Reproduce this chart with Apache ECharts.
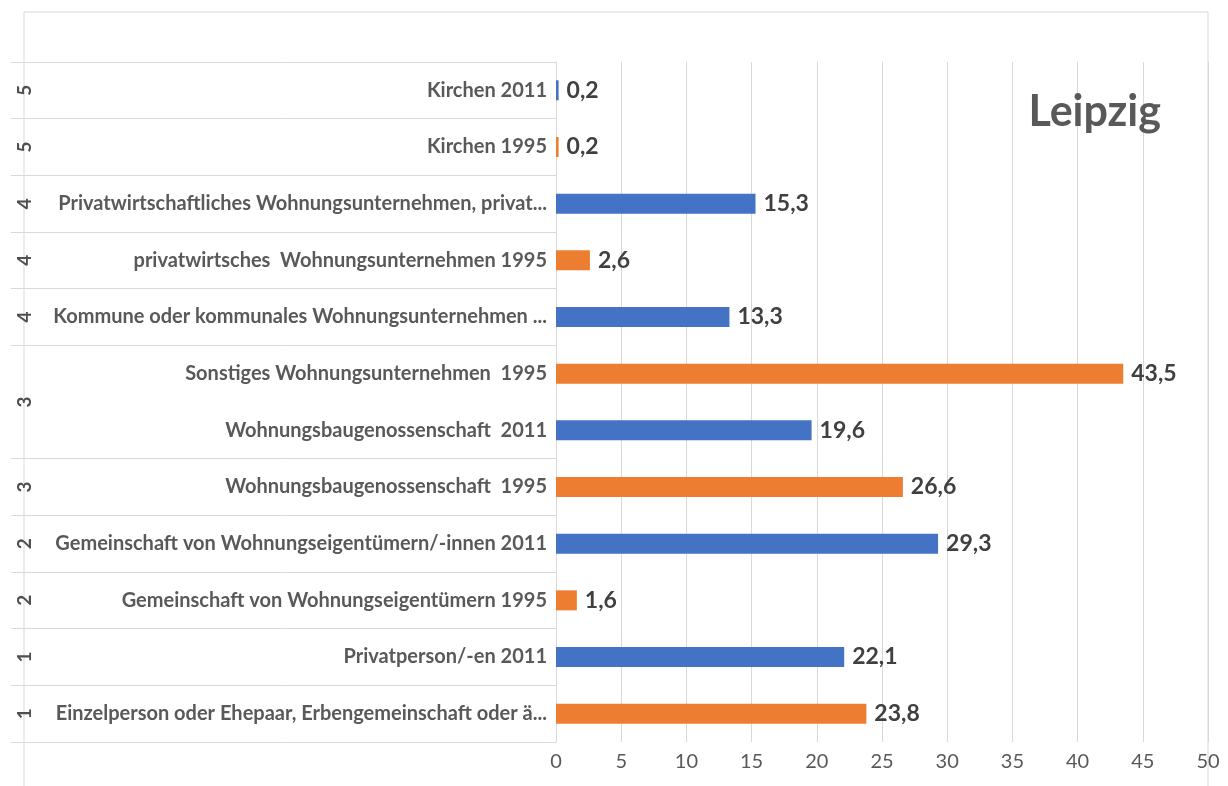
<!DOCTYPE html>
<html>
<head>
  <meta charset="utf-8">
  <title>Leipzig</title>
  <script src="https://cdn.jsdelivr.net/npm/echarts@6/dist/echarts.min.js"></script>
  <style>
    html, body { margin: 0; padding: 0; background: #fff; }
    #chart { width: 1228px; height: 786px; }
  </style>
</head>
<body>
  <div id="chart"></div>
  <script>
    // categories, bottom to top
    const categories = [
      'Einzelperson oder Ehepaar, Erbengemeinschaft oder ä...',
      'Privatperson/-en 2011',
      'Gemeinschaft von Wohnungseigentümern 1995',
      'Gemeinschaft von Wohnungseigentümern/-innen 2011',
      'Wohnungsbaugenossenschaft  1995',
      'Wohnungsbaugenossenschaft  2011',
      'Sonstiges Wohnungsunternehmen  1995',
      'Kommune oder kommunales Wohnungsunternehmen ...',
      'privatwirtsches  Wohnungsunternehmen 1995',
      'Privatwirtschaftliches Wohnungsunternehmen, privat...',
      'Kirchen 1995',
      'Kirchen 2011'
    ];
    const values1995 = [23.8, null, 1.6, null, 26.6, null, 43.5, null, 2.6, null, 0.2, null];
    const values2011 = [null, 22.1, null, 29.3, null, 19.6, null, 13.3, null, 15.3, null, 0.2];

    // outer group labels and how many rows each spans (bottom to top)
    const groupLabels = ['1', '1', '2', '2', '3', '3', '4', '4', '4', '5', '5'];
    const groupSpans = [1, 1, 1, 1, 1, 2, 1, 1, 1, 1, 1];

    const xTicks = [0, 5, 10, 15, 20, 25, 30, 35, 40, 45, 50];

    // group centres (for labels) and group edges (for separator lines)
    const groupCenters = [];
    const groupEdges = [0];
    let pos = 0;
    groupSpans.forEach(s => {
      groupCenters.push(pos + s / 2);
      pos += s;
      groupEdges.push(pos);
    });
    const centerLabel = {};
    groupCenters.forEach((c, i) => { centerLabel[c] = groupLabels[i]; });

    const font = 'Lato, "Noto Sans", sans-serif';
    const grey = '#d9d9d9';
    const fmt = v => v.toFixed(1).replace('.', ',');

    const barLabel = {
      show: true,
      position: 'right',
      distance: 8,
      fontFamily: font,
      fontWeight: 'bold',
      fontSize: 23,
      color: '#404040',
      formatter: p => fmt(p.value)
    };

    const chart = echarts.init(document.getElementById('chart'));
    chart.setOption({
      backgroundColor: '#fff',
      animation: false,
      title: {
        text: 'Leipzig',
        right: 62,
        top: 86,
        textStyle: { fontFamily: font, fontWeight: 'bold', fontSize: 43, color: '#595959' }
      },
      grid: { left: 556, right: 20, top: 62, bottom: 44 },
      xAxis: {
        type: 'value',
        min: xTicks[0],
        max: xTicks[xTicks.length - 1],
        interval: 5,
        axisLine: { show: false },
        axisTick: { show: false },
        splitLine: { lineStyle: { color: grey, width: 1 } },
        axisLabel: { fontFamily: font, fontSize: 20, color: '#595959', margin: 10 }
      },
      yAxis: [
        {
          type: 'category',
          data: categories,
          axisLine: { lineStyle: { color: grey } },
          axisTick: { show: false },
          axisLabel: {
            fontFamily: font, fontWeight: 'bold', fontSize: 20, color: '#595959', margin: 9
          }
        },
        {
          type: 'value',
          min: 0,
          max: categories.length,
          position: 'left',
          axisLine: { show: false },
          splitLine: { show: false },
          axisTick: {
            show: true,
            length: 545,
            customValues: groupEdges,
            lineStyle: { color: grey }
          },
          axisLabel: {
            customValues: groupCenters,
            rotate: 90,
            margin: 522,
            fontFamily: font, fontWeight: 'bold', fontSize: 19, color: '#4f4f4f',
            formatter: v => centerLabel[v] || ''
          }
        }
      ],
      series: [
        {
          name: '1995', type: 'bar', stack: 'a', yAxisIndex: 0, barWidth: 20,
          itemStyle: { color: '#ED7D31' }, label: barLabel, data: values1995
        },
        {
          name: '2011', type: 'bar', stack: 'a', yAxisIndex: 0, barWidth: 20,
          itemStyle: { color: '#4472C4' }, label: barLabel, data: values2011
        }
      ],
      graphic: [{
        type: 'polyline',
        shape: { points: [[24, 786], [24, 12], [1208, 12], [1208, 786]] },
        style: { stroke: grey, fill: null, lineWidth: 1 },
        silent: true
      }]
    });
  </script>
</body>
</html>
